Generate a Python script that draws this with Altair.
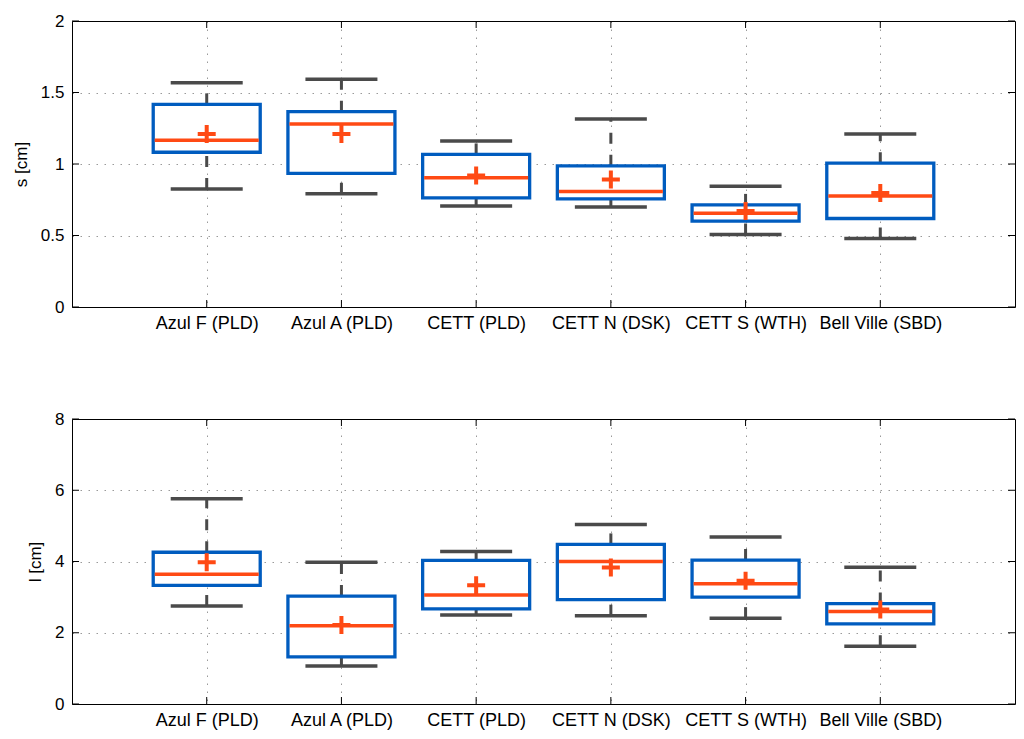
import altair as alt
import pandas as pd

cats = ["Azul F (PLD)", "Azul A (PLD)", "CETT (PLD)", "CETT N (DSK)", "CETT S (WTH)", "Bell Ville (SBD)"]

s_low = [0.825, 0.792, 0.707, 0.700, 0.507, 0.479]
s_q1 = [1.082, 0.935, 0.763, 0.756, 0.600, 0.619]
s_med = [1.166, 1.280, 0.903, 0.808, 0.656, 0.777]
s_mean = [1.21, 1.21, 0.92, 0.892, 0.672, 0.798]
s_q3 = [1.417, 1.366, 1.067, 0.987, 0.714, 1.006]
s_high = [1.568, 1.592, 1.160, 1.314, 0.845, 1.209]
s_ticks = [0, 0.5, 1, 1.5, 2]

l_low = [2.75, 1.065, 2.50, 2.48, 2.41, 1.62]
l_q1 = [3.33, 1.32, 2.67, 2.93, 3.00, 2.25]
l_med = [3.645, 2.20, 3.06, 4.00, 3.375, 2.60]
l_mean = [3.98, 2.215, 3.33, 3.83, 3.46, 2.655]
l_q3 = [4.26, 3.03, 4.03, 4.48, 4.04, 2.82]
l_high = [5.76, 3.98, 4.28, 5.04, 4.69, 3.84]
l_ticks = [0, 2, 4, 6, 8]

BLUE = "#005cbf"
ORANGE = "#ff4a14"
GRAY = "#4a4a4a"
FONT = "Liberation Sans"
W = 943
GRID = dict(grid=True, gridDash=[1.5, 6.5], gridColor="#9a9a9a", gridWidth=1)


def panel(low, q1, med, mean, q3, high, ticks, title, H):
    df = pd.DataFrame({"cat": cats, "low": low, "q1": q1, "med": med,
                       "mean": mean, "q3": q3, "high": high})
    tdf = pd.DataFrame({"t": ticks})
    ydom = [ticks[0], ticks[-1]]
    xs = alt.Scale(type="point", padding=1, domain=cats)
    ys = alt.Scale(domain=ydom, nice=False, zero=False)

    x_main = alt.X("cat:N", scale=xs, sort=cats, title=None,
                   axis=alt.Axis(labelFont=FONT, labelFontSize=18, labelColor="black",
                                 labelPadding=7, ticks=False, domain=True,
                                 domainColor="black", domainWidth=1, labelAngle=0, **GRID))
    x_top = alt.X("cat:N", scale=xs, sort=cats, title=None,
                  axis=alt.Axis(orient="top", labels=False, ticks=False, domain=True,
                                domainColor="black", domainWidth=1, grid=False))
    x_none = alt.X("cat:N", scale=xs, sort=cats, title=None, axis=None)

    y_main_axis = alt.Axis(values=ticks, format=".1~f", labelFont=FONT, labelFontSize=17,
                           labelColor="black", labelPadding=8, ticks=False, domain=True,
                           domainColor="black", domainWidth=1,
                           titleFont=FONT, titleFontSize=17, titleFontWeight="normal",
                           titleColor="black", titlePadding=10, **GRID)
    y_right_axis = alt.Axis(orient="right", values=ticks, labels=False, ticks=False,
                            domain=True, domainColor="black", domainWidth=1, grid=False,
                            title=None)

    def yq(field, axis=None, t=None):
        if axis is None:
            return alt.Y(field, scale=ys, axis=None)
        return alt.Y(field, scale=ys, axis=axis, title=t)

    base = alt.Chart(df)
    lowwh = base.mark_rule(color=GRAY, strokeWidth=3, strokeDash=[11, 11], opacity=1).encode(
        x=x_main, y=yq("low:Q", y_main_axis, title), y2="q1:Q")
    upwh = base.mark_rule(color=GRAY, strokeWidth=3, strokeDash=[11, 11], opacity=1).encode(
        x=x_none, y=yq("q3:Q"), y2="high:Q")
    capl = base.mark_tick(color=GRAY, size=72, thickness=3.5, orient="horizontal",
                          opacity=1).encode(x=x_none, y=yq("low:Q"))
    caph = base.mark_tick(color=GRAY, size=72, thickness=3.5, orient="horizontal",
                          opacity=1).encode(x=x_none, y=yq("high:Q"))
    box = base.mark_bar(size=107, fill="white", stroke=BLUE, strokeWidth=3.3,
                        opacity=1).encode(x=x_none, y=yq("q1:Q"), y2="q3:Q")
    medl = base.mark_tick(color=ORANGE, size=104, thickness=3.5, orient="horizontal",
                          opacity=1).encode(x=x_none, y=yq("med:Q"))
    meanp = base.mark_point(shape="M-1,0L1,0M0,-1L0,1", size=324, filled=False,
                            stroke=ORANGE, strokeWidth=4, opacity=1).encode(
        x=x_none, y=yq("mean:Q"))
    xtb = base.mark_rule(color="black", strokeWidth=1).encode(
        x=x_none, y=alt.value(H), y2=alt.value(H - 7))
    xtt = base.mark_rule(color="black", strokeWidth=1).encode(
        x=x_top, y=alt.value(0), y2=alt.value(7))
    tb = alt.Chart(tdf)
    ytl = tb.mark_rule(color="black", strokeWidth=1).encode(
        y=yq("t:Q"), x=alt.value(0), x2=alt.value(7))
    ytr = tb.mark_rule(color="black", strokeWidth=1).encode(
        y=yq("t:Q", y_right_axis, None), x=alt.value(W - 7), x2=alt.value(W))
    return alt.layer(lowwh, upwh, capl, caph, box, medl, meanp, xtb, xtt, ytl, ytr).resolve_axis(
        x="independent", y="independent").properties(width=W, height=H)


top = panel(s_low, s_q1, s_med, s_mean, s_q3, s_high, s_ticks, "s [cm]", 286)
bot = panel(l_low, l_q1, l_med, l_mean, l_q3, l_high, l_ticks, "l [cm]", 285)

chart = alt.vconcat(top, bot, spacing=112, bounds="flush").properties(
    padding={"left": 3, "top": 3, "right": 0, "bottom": 0}
).configure_view(stroke="black", strokeWidth=1).configure(background="white")

chart.save("out.html", embed_options={"renderer": "svg", "actions": False})
